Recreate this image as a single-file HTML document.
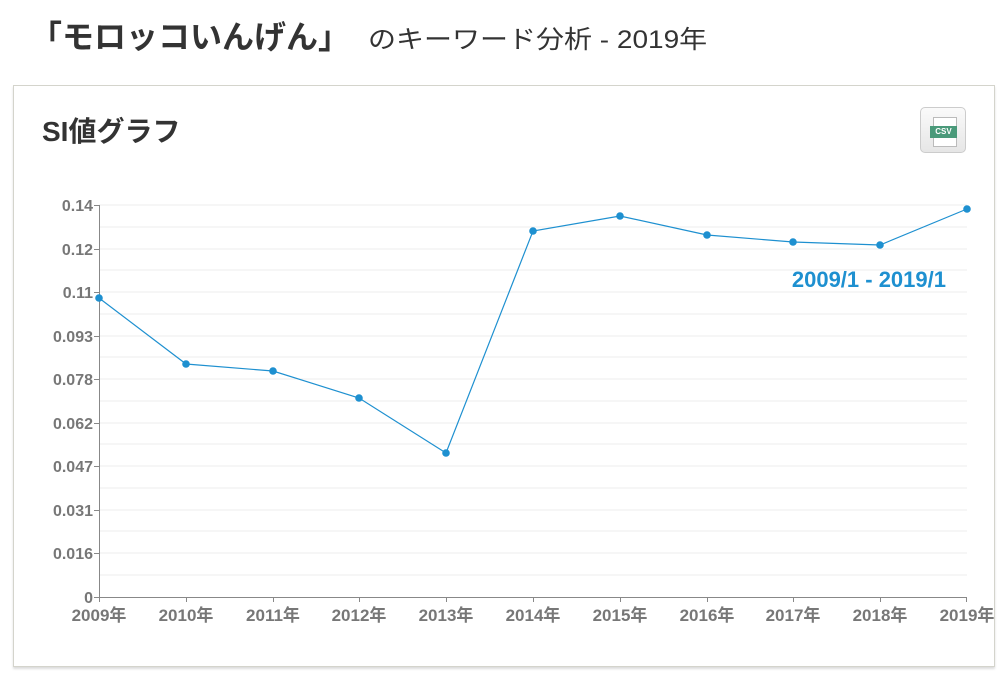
<!DOCTYPE html>
<html><head><meta charset="utf-8"><style>
body{margin:0;background:#fff;width:1004px;height:678px;overflow:hidden;font-family:"Liberation Sans","Noto Sans CJK JP",sans-serif;}
.t{position:absolute;left:30px;top:12px;font-size:32px;font-weight:bold;color:#333;white-space:nowrap;}
.s{position:absolute;left:368px;top:20px;font-size:25px;color:#333;white-space:nowrap;transform-origin:0 0;transform:scaleX(1.12);}
.box{position:absolute;left:13px;top:85px;width:982px;height:582px;border:1px solid #d4d4cc;box-shadow:0 2px 2px #ddd;box-sizing:border-box;}
.h{position:absolute;left:42px;top:110px;font-size:28px;font-weight:bold;color:#333;white-space:nowrap;}
.csv{position:absolute;left:920px;top:107px;width:46px;height:46px;border:1px solid #ccc;border-radius:5px;background:linear-gradient(#fafafa,#e6e6e6);box-sizing:border-box;}
</style></head><body>
<div class="t">「モロッコいんげん」</div>
<div class="s">のキーワード分析 - 2019年</div>
<div class="box"></div>
<div class="h">SI値グラフ</div>
<div class="csv"><div style="position:absolute;left:12px;top:9px;width:22px;height:28px;background:#fff;border:1px solid #bbb"></div><div style="position:absolute;left:9px;top:18px;width:27px;height:12px;background:#4a9a7a;color:#fff;font-size:8px;font-weight:bold;text-align:center;line-height:12px">CSV</div></div>
<svg width="1004" height="678" style="position:absolute;left:0;top:0">
<g stroke="#eee" stroke-width="1">
<line x1="99" x2="967" y1="227" y2="227"/><line x1="99" x2="967" y1="249" y2="249"/><line x1="99" x2="967" y1="270" y2="270"/><line x1="99" x2="967" y1="292" y2="292"/><line x1="99" x2="967" y1="314" y2="314"/><line x1="99" x2="967" y1="336" y2="336"/><line x1="99" x2="967" y1="357" y2="357"/><line x1="99" x2="967" y1="379" y2="379"/><line x1="99" x2="967" y1="401" y2="401"/><line x1="99" x2="967" y1="423" y2="423"/><line x1="99" x2="967" y1="444" y2="444"/><line x1="99" x2="967" y1="466" y2="466"/><line x1="99" x2="967" y1="488" y2="488"/><line x1="99" x2="967" y1="510" y2="510"/><line x1="99" x2="967" y1="531" y2="531"/><line x1="99" x2="967" y1="553" y2="553"/><line x1="99" x2="967" y1="575" y2="575"/><line x1="99" x2="967" y1="205" y2="205"/>
</g>
<g stroke="#888" stroke-width="1">
<line x1="99.5" x2="99.5" y1="205" y2="597"/><line x1="99" x2="967" y1="597.5" y2="597.5"/>
<line x1="94" x2="99" y1="205.5" y2="205.5"/><line x1="94" x2="99" y1="249.5" y2="249.5"/><line x1="94" x2="99" y1="292.5" y2="292.5"/><line x1="94" x2="99" y1="336.5" y2="336.5"/><line x1="94" x2="99" y1="379.5" y2="379.5"/><line x1="94" x2="99" y1="423.5" y2="423.5"/><line x1="94" x2="99" y1="466.5" y2="466.5"/><line x1="94" x2="99" y1="510.5" y2="510.5"/><line x1="94" x2="99" y1="553.5" y2="553.5"/><line x1="94" x2="99" y1="597.5" y2="597.5"/>
<line x1="99.5" x2="99.5" y1="597" y2="602"/><line x1="186.5" x2="186.5" y1="597" y2="602"/><line x1="273.5" x2="273.5" y1="597" y2="602"/><line x1="359.5" x2="359.5" y1="597" y2="602"/><line x1="446.5" x2="446.5" y1="597" y2="602"/><line x1="533.5" x2="533.5" y1="597" y2="602"/><line x1="620.5" x2="620.5" y1="597" y2="602"/><line x1="707.5" x2="707.5" y1="597" y2="602"/><line x1="793.5" x2="793.5" y1="597" y2="602"/><line x1="880.5" x2="880.5" y1="597" y2="602"/><line x1="966.5" x2="966.5" y1="597" y2="602"/>
</g>
<g font-size="16" fill="#777" text-anchor="end" font-weight="bold">
<text x="93" y="211">0.14</text><text x="93" y="255">0.12</text><text x="93" y="298">0.11</text><text x="93" y="342">0.093</text><text x="93" y="385">0.078</text><text x="93" y="429">0.062</text><text x="93" y="472">0.047</text><text x="93" y="516">0.031</text><text x="93" y="559">0.016</text><text x="93" y="603">0</text>
</g>
<g font-size="17" fill="#777" text-anchor="middle" font-weight="bold">
<text x="99" y="621">2009年</text><text x="186" y="621">2010年</text><text x="273" y="621">2011年</text><text x="359" y="621">2012年</text><text x="446" y="621">2013年</text><text x="533" y="621">2014年</text><text x="620" y="621">2015年</text><text x="707" y="621">2016年</text><text x="793" y="621">2017年</text><text x="880" y="621">2018年</text><text x="967" y="621">2019年</text>
</g>
<polyline fill="none" stroke="#1e90d0" stroke-width="1.2" points="99,298 186,364 273,371 359,398 446,453 533,231 620,216 707,235 793,242 880,245 967,209"/>
<g fill="#1e90d0">
<circle cx="99" cy="298" r="3.8"/><circle cx="186" cy="364" r="3.8"/><circle cx="273" cy="371" r="3.8"/><circle cx="359" cy="398" r="3.8"/><circle cx="446" cy="453" r="3.8"/><circle cx="533" cy="231" r="3.8"/><circle cx="620" cy="216" r="3.8"/><circle cx="707" cy="235" r="3.8"/><circle cx="793" cy="242" r="3.8"/><circle cx="880" cy="245" r="3.8"/><circle cx="967" cy="209" r="3.8"/>
</g>
<text x="946" y="287" font-size="22" font-weight="bold" fill="#1e90d0" text-anchor="end">2009/1 - 2019/1</text>
</svg>
</body></html>
